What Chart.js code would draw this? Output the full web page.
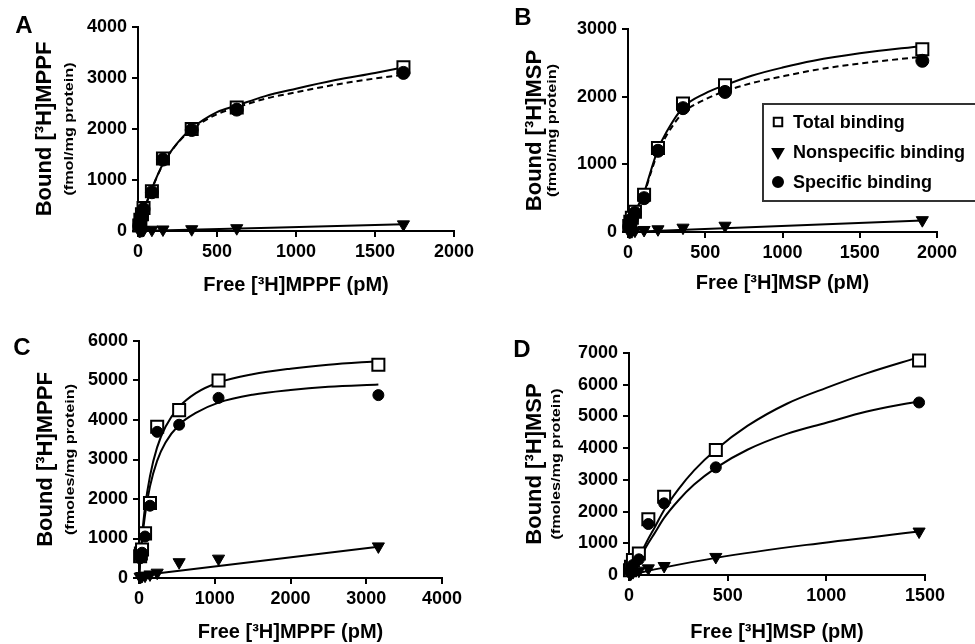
<!DOCTYPE html>
<html>
<head>
<meta charset="utf-8">
<script src="https://cdn.jsdelivr.net/npm/chart.js@4.4.1/dist/chart.umd.min.js"></script>
<style>
  html, body { margin: 0; padding: 0; background: #fff; }
  #wrap { position: relative; width: 975px; height: 644px; overflow: hidden; }
  canvas { position: absolute; }
</style>
</head>
<body>
<div id="wrap">
  <canvas id="panelA" width="487" height="322" style="left:0;top:0"></canvas>
  <canvas id="panelB" width="488" height="322" style="left:487px;top:0"></canvas>
  <canvas id="panelC" width="487" height="322" style="left:0;top:322px"></canvas>
  <canvas id="panelD" width="488" height="322" style="left:487px;top:322px"></canvas>
</div>
<script>
const legendLabels = ['Total binding', 'Nonspecific binding', 'Specific binding'];

// Panel A - [3H]MPPF
const aFree = [8, 15, 25, 35, 88, 158, 340, 625, 1680];
const aTotal = [110, 220, 330, 450, 780, 1420, 2000, 2420, 3210];
const aSpec = [100, 200, 310, 430, 760, 1400, 1980, 2380, 3100];
const aNonspec = [5, 10, 15, 20, 25, 30, 35, 55, 130];
const aFitX = [0, 20, 50, 90, 160, 250, 340, 500, 625, 800, 1000, 1250, 1500, 1680];
const aFitTotal = [0, 230, 520, 850, 1330, 1730, 2010, 2330, 2460, 2640, 2790, 2960, 3100, 3210];
const aFitSpec = [0, 220, 510, 840, 1320, 1720, 1990, 2290, 2420, 2590, 2720, 2870, 2990, 3060];
const aNsFitX = [0, 1680];
const aNsFit = [0, 130];
const aXTicks = [0, 2000, 500];
const aYTicks = [0, 4000, 1000];

// Panel B - [3H]MSP
const bFree = [8, 15, 25, 45, 104, 194, 356, 628, 1905];
const bTotal = [90, 150, 210, 300, 550, 1240, 1900, 2170, 2700];
const bSpec = [80, 130, 190, 280, 500, 1200, 1830, 2070, 2530];
const bNonspec = [5, 8, 12, 20, 30, 40, 64, 93, 175];
const bFitX = [0, 30, 60, 104, 150, 194, 250, 356, 500, 628, 800, 1000, 1200, 1500, 1905];
const bFitTotal = [0, 200, 360, 580, 920, 1220, 1480, 1840, 2050, 2170, 2310, 2430, 2530, 2640, 2750];
const bFitSpec = [0, 190, 340, 560, 890, 1180, 1430, 1760, 1960, 2080, 2200, 2300, 2390, 2490, 2590];
const bNsFitX = [0, 1905];
const bNsFit = [0, 170];
const bXTicks = [0, 2000, 500];
const bYTicks = [0, 3000, 1000];

// Panel C - [3H]MPPF
const cFree = [15, 25, 40, 80, 145, 240, 530, 1050, 3160];
const cTotal = [550, 620, 720, 1130, 1900, 3830, 4250, 5000, 5400];
const cSpec = [500, 560, 640, 1050, 1830, 3700, 3880, 4560, 4630];
const cNonspec = [30, 40, 50, 60, 90, 135, 400, 490, 800];
const cFitX = [0, 40, 80, 145, 238, 350, 530, 750, 1050, 1500, 2000, 2500, 3160];
const cFitTotal = [0, 1050, 1800, 2580, 3300, 3830, 4330, 4680, 4950, 5160, 5300, 5400, 5490];
const cFitSpec = [0, 950, 1600, 2320, 2960, 3430, 3880, 4180, 4440, 4640, 4760, 4840, 4900];
const cNsFitX = [0, 3160];
const cNsFit = [60, 790];
const cXTicks = [0, 4000, 1000];
const cYTicks = [0, 6000, 1000];

// Panel D - [3H]MSP
const dFree = [5, 10, 20, 50, 98, 178, 440, 1470];
const dTotal = [150, 260, 470, 680, 1760, 2470, 3940, 6760];
const dSpec = [100, 160, 315, 495, 1608, 2260, 3395, 5440];
const dNonspec = [30, 50, 90, 136, 210, 284, 570, 1370];
const dFitX = [0, 50, 90, 130, 178, 250, 330, 440, 600, 800, 1000, 1200, 1470];
const dFitTotal = [0, 550, 1050, 1500, 2050, 2700, 3300, 3950, 4700, 5400, 5900, 6350, 6870];
const dFitSpec = [0, 480, 920, 1320, 1800, 2350, 2850, 3380, 3950, 4450, 4800, 5150, 5480];
const dNsFitX = [0, 180, 440, 900, 1470];
const dNsFit = [0, 240, 540, 950, 1370];
const dXTicks = [0, 1500, 500];
const dYTicks = [0, 7000, 1000];

Chart.defaults.font.family = '"Liberation Sans", Arial, sans-serif';
Chart.defaults.color = '#000';

function pts(xs, ys) {
    return xs.map(function (x, i) { return { x: x, y: ys[i] }; });
}

// panel letter, small y sub-title and (panel B) the boxed legend
const panelDecor = {
    id: 'panelDecor',
    afterDraw(chart, args, o) {
        const ctx = chart.ctx;
        const area = chart.chartArea;
        ctx.save();
        ctx.fillStyle = '#000';
        ctx.font = 'bold 24px "Liberation Sans", Arial, sans-serif';
        ctx.textAlign = 'center';
        ctx.textBaseline = 'middle';
        ctx.fillText(o.letter, o.letterX, o.letterY);

        ctx.save();
        ctx.translate(o.subX, (area.top + area.bottom) / 2);
        ctx.rotate(-Math.PI / 2);
        ctx.scale(1.35, 1);
        ctx.font = 'bold 12px "Liberation Sans", Arial, sans-serif';
        ctx.fillText(o.sub, 0, 0);
        ctx.restore();

        if (o.legend) {
            const lg = o.legend;
            ctx.lineWidth = 2;
            ctx.strokeStyle = '#333';
            ctx.strokeRect(lg.x, lg.y, lg.w, lg.h);
            ctx.font = 'bold 18px "Liberation Sans", Arial, sans-serif';
            ctx.textAlign = 'left';
            const marks = chart.data.datasets.filter(function (d) { return d.inLegend; });
            marks.forEach(function (d, i) {
                const y = lg.y + lg.rowTop + i * lg.rowGap;
                ctx.fillStyle = d.pointBackgroundColor;
                ctx.strokeStyle = '#000';
                ctx.lineWidth = 2;
                Chart.helpers.drawPoint(ctx, {
                    pointStyle: d.pointStyle,
                    radius: d.legendRadius,
                    rotation: d.pointRotation || 0,
                    borderWidth: d.pointBorderWidth
                }, lg.x + lg.markX, y);
                ctx.fillStyle = '#000';
                ctx.fillText(d.label, lg.x + lg.textX, y + 1);
            });
        }
        ctx.restore();
    }
};

function plainTick(v) {
    return String(v);
}

function makePanel(id, p) {
    const fitLine = function (xs, ys, dash) {
        return {
            data: pts(xs, ys),
            showLine: true,
            pointRadius: 0,
            borderColor: '#000',
            borderWidth: 2,
            borderDash: dash || [],
            cubicInterpolationMode: 'monotone',
            clip: false,
            order: 5
        };
    };
    return new Chart(document.getElementById(id), {
        type: 'scatter',
        data: {
            datasets: [
                {
                    label: legendLabels[0], inLegend: true, legendRadius: 6,
                    data: pts(p.free, p.total),
                    pointStyle: 'rect', pointRadius: 8.5,
                    pointBackgroundColor: '#fff', pointBorderColor: '#000', pointBorderWidth: 2,
                    clip: false, order: 2
                },
                {
                    label: legendLabels[1], inLegend: true, legendRadius: 6,
                    data: pts(p.free, p.nonspec),
                    pointStyle: 'triangle', pointRotation: 180, pointRadius: 7,
                    pointBackgroundColor: '#000', pointBorderColor: '#000', pointBorderWidth: 1,
                    clip: false, order: 1
                },
                {
                    label: legendLabels[2], inLegend: true, legendRadius: 5,
                    data: pts(p.free, p.spec),
                    pointStyle: 'circle', pointRadius: p.dotRadius,
                    pointBackgroundColor: '#000', pointBorderColor: '#000', pointBorderWidth: 1,
                    clip: false, order: 0
                },
                fitLine(p.fitX, p.fitTotal),
                fitLine(p.fitX, p.fitSpec, p.dashed ? [6, 4] : null),
                fitLine(p.nsFitX, p.nsFit)
            ]
        },
        options: {
            responsive: false,
            animation: false,
            layout: { padding: p.pad },
            plugins: {
                legend: { display: false },
                tooltip: { enabled: false },
                panelDecor: p.decor
            },
            scales: {
                x: {
                    type: 'linear',
                    min: p.xTicks[0], max: p.xTicks[1],
                    ticks: { stepSize: p.xTicks[2], callback: plainTick, font: { size: 18, weight: 'bold' }, padding: 4, color: '#000' },
                    border: { color: '#000', width: 2 },
                    grid: { drawOnChartArea: false, tickLength: 6, color: '#000', lineWidth: 2 },
                    title: {
                        display: true, text: p.xTitle, color: '#000',
                        font: { size: 20, weight: 'bold' },
                        padding: { top: 0, bottom: p.xTitlePad }
                    },
                    afterFit: function (s) { s.height = p.xHeight; }
                },
                y: {
                    type: 'linear',
                    min: p.yTicks[0], max: p.yTicks[1],
                    ticks: { stepSize: p.yTicks[2], callback: plainTick, font: { size: 18, weight: 'bold' }, padding: 5, color: '#000' },
                    border: { color: '#000', width: 2 },
                    grid: { drawOnChartArea: false, tickLength: 6, color: '#000', lineWidth: 2 },
                    title: {
                        display: true, text: p.yTitle, color: '#000',
                        font: { size: 22, weight: 'bold' },
                        padding: { top: p.yTitlePad, bottom: 0 }
                    },
                    afterFit: function (s) { s.width = p.yWidth; }
                }
            }
        },
        plugins: [panelDecor]
    });
}

makePanel('panelA', {
    free: aFree, total: aTotal, spec: aSpec, nonspec: aNonspec,
    fitX: aFitX, fitTotal: aFitTotal, fitSpec: aFitSpec, nsFitX: aNsFitX, nsFit: aNsFit,
    dashed: true, dotRadius: 6.5, xTicks: aXTicks, yTicks: aYTicks,
    xTitle: 'Free [³H]MPPF (pM)', yTitle: 'Bound [³H]MPPF',
    pad: { left: 0, top: 27, right: 33, bottom: 0 },
    yWidth: 138, xHeight: 91, xTitlePad: 25, yTitlePad: 32,
    decor: { letter: 'A', letterX: 24, letterY: 26, sub: '(fmol/mg protein)', subX: 70 }
});

makePanel('panelB', {
    free: bFree, total: bTotal, spec: bSpec, nonspec: bNonspec,
    fitX: bFitX, fitTotal: bFitTotal, fitSpec: bFitSpec, nsFitX: bNsFitX, nsFit: bNsFit,
    dashed: true, dotRadius: 6.5, xTicks: bXTicks, yTicks: bYTicks,
    xTitle: 'Free [³H]MSP (pM)', yTitle: 'Bound [³H]MSP',
    pad: { left: 0, top: 29, right: 38, bottom: 0 },
    yWidth: 141, xHeight: 90, xTitlePad: 27, yTitlePad: 35,
    decor: {
        letter: 'B', letterX: 36, letterY: 18, sub: '(fmol/mg protein)', subX: 66,
        legend: { x: 276, y: 104, w: 216, h: 97, rowTop: 18, rowGap: 30, markX: 15, textX: 30 }
    }
});

makePanel('panelC', {
    free: cFree, total: cTotal, spec: cSpec, nonspec: cNonspec,
    fitX: cFitX, fitTotal: cFitTotal, fitSpec: cFitSpec, nsFitX: cNsFitX, nsFit: cNsFit,
    dashed: false, dotRadius: 5.5, xTicks: cXTicks, yTicks: cYTicks,
    xTitle: 'Free [³H]MPPF (pM)', yTitle: 'Bound [³H]MPPF',
    pad: { left: 0, top: 19, right: 45, bottom: 0 },
    yWidth: 139, xHeight: 66, xTitlePad: 0, yTitlePad: 33,
    decor: { letter: 'C', letterX: 22, letterY: 26, sub: '(fmoles/mg protein)', subX: 71 }
});

makePanel('panelD', {
    free: dFree, total: dTotal, spec: dSpec, nonspec: dNonspec,
    fitX: dFitX, fitTotal: dFitTotal, fitSpec: dFitSpec, nsFitX: dNsFitX, nsFit: dNsFit,
    dashed: false, dotRadius: 5.5, xTicks: dXTicks, yTicks: dYTicks,
    xTitle: 'Free [³H]MSP (pM)', yTitle: 'Bound [³H]MSP',
    pad: { left: 0, top: 31, right: 50, bottom: 0 },
    yWidth: 142, xHeight: 69, xTitlePad: 0, yTitlePad: 35,
    decor: { letter: 'D', letterX: 35, letterY: 28, sub: '(fmoles/mg protein)', subX: 70 }
});
</script>
</body>
</html>
